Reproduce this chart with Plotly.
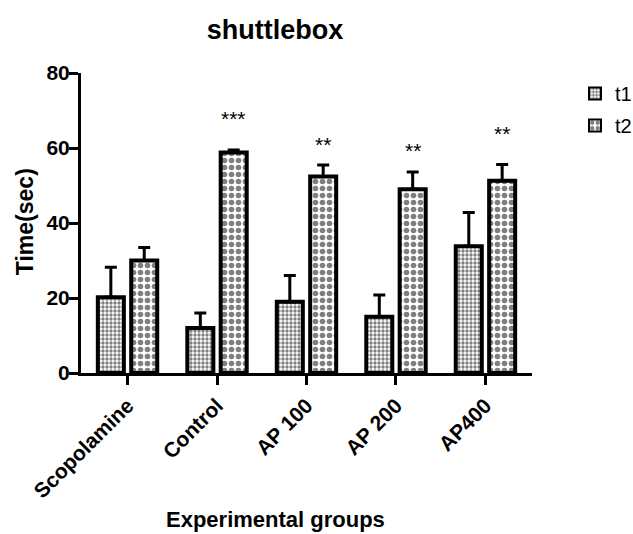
import plotly.graph_objects as go

groups = ["Scopolamine", "Control", "AP 100", "AP 200", "AP400"]
t1_mean = [20.2, 12.0, 19.0, 15.0, 33.8]
t1_err = [8.0, 4.0, 7.0, 5.8, 9.0]
t2_mean = [30.0, 58.8, 52.4, 49.0, 51.3]
t2_err = [3.5, 0.7, 3.1, 4.6, 4.3]
stars = ["", "***", "**", "**", "**"]
star_y = [0, 68.5, 61.6, 60.0, 64.3]
y_ticks = [0, 20, 40, 60, 80]

FONT = "Liberation Sans, Arial, sans-serif"

# plot-area geometry (pixels) for helper conversions
L, R, T, B = 81, 532, 73, 372.7
W, H = 633, 534
def px(xp):
    return (xp - L) / (R - L)
def py(yp):
    return (B - yp) / (B - T)

fig = go.Figure()
fig.add_trace(go.Bar(
    name="t1", x=groups, y=t1_mean, legendgroup="a",
    marker=dict(color="white", line=dict(color="black", width=4),
                pattern=dict(shape=".", fgcolor="black", bgcolor="white", size=4, solidity=0.55)),
    error_y=dict(type="data", array=t1_err, arrayminus=[0] * 5, symmetric=False,
                 color="black", thickness=3, width=6),
))
fig.add_trace(go.Bar(
    name="t2", x=groups, y=t2_mean, legendgroup="b",
    marker=dict(color="white", line=dict(color="black", width=4),
                pattern=dict(shape=".", fgcolor="black", bgcolor="white", size=7, solidity=0.5)),
    error_y=dict(type="data", array=t2_err, arrayminus=[0] * 5, symmetric=False,
                 color="black", thickness=3, width=6),
))

for i, (s, yv) in enumerate(zip(stars, star_y)):
    if s:
        fig.add_annotation(x=i + 0.187, y=yv, xref="x", yref="y", text=s, showarrow=False,
                           yanchor="middle", yshift=-2,
                           font=dict(family=FONT, size=21, color="black"))

fig.add_annotation(x=px(275), y=py(534), xref="paper", yref="paper", xanchor="center", yanchor="bottom",
                   text="<b>Experimental groups</b>", showarrow=False,
                   font=dict(family=FONT, size=22, color="black"))
fig.add_annotation(x=px(25), y=py(222), xref="paper", yref="paper", xanchor="center", yanchor="middle",
                   text="<b>Time(sec)</b>", showarrow=False, textangle=-90,
                   font=dict(family=FONT, size=23, color="black"))

fig.update_layout(
    width=W, height=H,
    margin=dict(l=L, r=W - R, t=T, b=H - B),
    paper_bgcolor="white", plot_bgcolor="white",
    barmode="group", bargap=0.254, bargroupgap=0.22,
    title=dict(text="<b>shuttlebox</b>", x=275 / W, xref="container", xanchor="center",
               y=1 - 30 / H, yref="container", yanchor="middle",
               font=dict(family=FONT, size=27, color="black")),
    font=dict(family=FONT, color="black"),
    legend=dict(x=575 / W, y=1 - 74 / H, xref="container", yref="container",
                xanchor="left", yanchor="top",
                font=dict(family=FONT, size=20, color="black"),
                tracegroupgap=3, itemsizing="constant"),
    showlegend=True,
)
fig.update_xaxes(range=[-0.52, 4.52], showline=True, linecolor="black", linewidth=3,
                 ticks="outside", ticklen=9, tickwidth=3, tickcolor="black",
                 tickangle=-45, tickfont=dict(family=FONT, size=21, color="black", weight="bold"),
                 showgrid=False, zeroline=False, automargin=False)
fig.update_yaxes(range=[0, 80], tickvals=y_ticks, showline=True, linecolor="black", linewidth=3,
                 ticks="outside", ticklen=9, tickwidth=3, tickcolor="black", ticklabelstandoff=-5,
                 tickfont=dict(family=FONT, size=21, color="black", weight="bold"),
                 showgrid=False, zeroline=False, automargin=False)

fig.write_html("out.html", config={"displayModeBar": False},
               post_script="document.body.style.margin='0';document.body.style.overflow='hidden';")
